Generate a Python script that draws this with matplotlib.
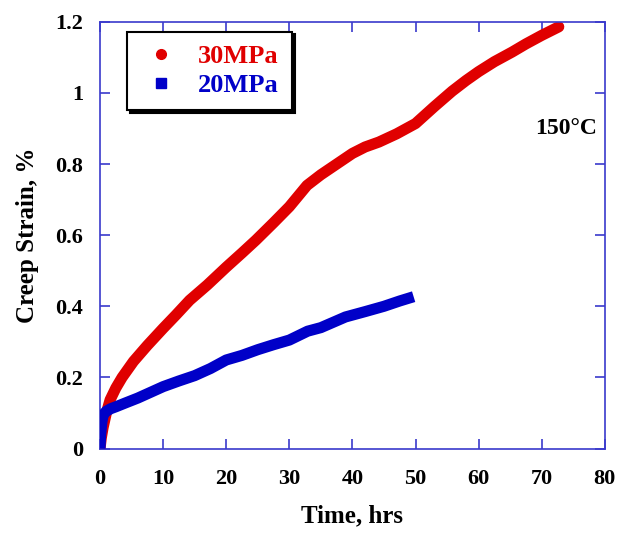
import matplotlib
matplotlib.use("Agg")
import matplotlib.pyplot as plt
from matplotlib.lines import Line2D

#-------------------------------------------------------------------------------------------------

# creep data, time in hrs, strain in %
time30 = [0, 0.2, 0.5, 1.0, 1.6, 2.5, 3.5, 5.3, 7.5, 10, 12, 14.2, 17, 20, 22.5, 24.7, 27.5, 30,
          32.8, 35, 37.5, 40, 42, 44.2, 47, 50, 51, 53, 55.8, 58, 60, 62.5, 65.3, 67.5, 70, 72.7]
strain30 = [0, 0.03, 0.06, 0.1, 0.137, 0.17, 0.2, 0.245, 0.29, 0.338, 0.375, 0.417, 0.46, 0.51,
            0.55, 0.586, 0.635, 0.68, 0.74, 0.77, 0.8, 0.83, 0.848, 0.862, 0.885, 0.914, 0.93,
            0.962, 1.005, 1.035, 1.06, 1.088, 1.115, 1.138, 1.162, 1.186]

time20 = [0, 0.1, 0.3, 0.5, 1.0, 1.7, 2.6, 4, 6, 8, 10, 12.5, 15, 17.5, 20, 22.5, 25, 27.5, 30,
          32.9, 35, 38.9, 42, 45, 47.5, 49.7]
strain20 = [0, 0.04, 0.075, 0.095, 0.105, 0.112, 0.118, 0.128, 0.142, 0.158, 0.174, 0.19, 0.205,
            0.225, 0.249, 0.262, 0.278, 0.292, 0.305, 0.33, 0.34, 0.37, 0.385, 0.4, 0.415, 0.427]

xTicks = [0, 10, 20, 30, 40, 50, 60, 70, 80]
yTicks = [0, 0.2, 0.4, 0.6, 0.8, 1.0, 1.2]
yTickLabels = ['0', '0.2', '0.4', '0.6', '0.8', '1', '1.2']

red = '#e00000'
blue = '#0000c8'
axisColor = '#3a3acc'

#-------------------------------------------------------------------------------------------------

plt.rcParams['font.family'] = ['Liberation Serif', 'DejaVu Serif']
plt.rcParams['font.weight'] = 'bold'

fig = plt.figure(figsize=(6.19, 5.33), dpi=100)
ax = fig.add_axes([0.1616, 0.1585, 0.8155, 0.8005])

ax.plot(time30, strain30, color=red, lw=8, solid_capstyle='round', solid_joinstyle='round', zorder=2)
ax.plot(time20, strain20, color=blue, lw=8, solid_capstyle='butt', solid_joinstyle='round', zorder=3)

ax.set_xlim(0, 80)
ax.set_ylim(0, 1.2)
ax.set_xticks(xTicks)
ax.set_yticks(yTicks)
ax.set_yticklabels(yTickLabels)

for s in ax.spines.values():
	s.set_color(axisColor)
	s.set_linewidth(1.2)
ax.tick_params(direction='in', length=7, width=1.2, color=axisColor, top=True, right=True,
               labelsize=16)
ax.tick_params(axis='x', pad=15)
ax.tick_params(axis='y', pad=12)
for lab in ax.get_xticklabels() + ax.get_yticklabels():
	lab.set_fontweight('bold')

ax.set_xlabel('Time, hrs', fontsize=18, fontweight='bold', labelpad=11)
ax.set_ylabel('Creep Strain, %', fontsize=18, fontweight='bold', labelpad=12)

ax.text(0.985, 0.75, '150\u00b0C', transform=ax.transAxes, ha='right', va='center',
        fontsize=17, fontweight='bold')

handles = [Line2D([], [], ls='none', marker='o', color=red, markersize=7, label='30MPa'),
           Line2D([], [], ls='none', marker='s', color=blue, markersize=7, label='20MPa')]
leg = ax.legend(handles=handles, loc='upper left', bbox_to_anchor=(0.053, 0.977), borderaxespad=0,
                fancybox=False, shadow={'color': 'black', 'alpha': 1}, framealpha=1,
                edgecolor='black', prop={'size': 19, 'weight': 'bold'}, handletextpad=0.6,
                borderpad=0.5, labelspacing=0.2, handlelength=1.6)
leg.get_frame().set_linewidth(1.5)
leg.get_texts()[0].set_color(red)
leg.get_texts()[1].set_color(blue)

fig.savefig('out.png', dpi=100)
